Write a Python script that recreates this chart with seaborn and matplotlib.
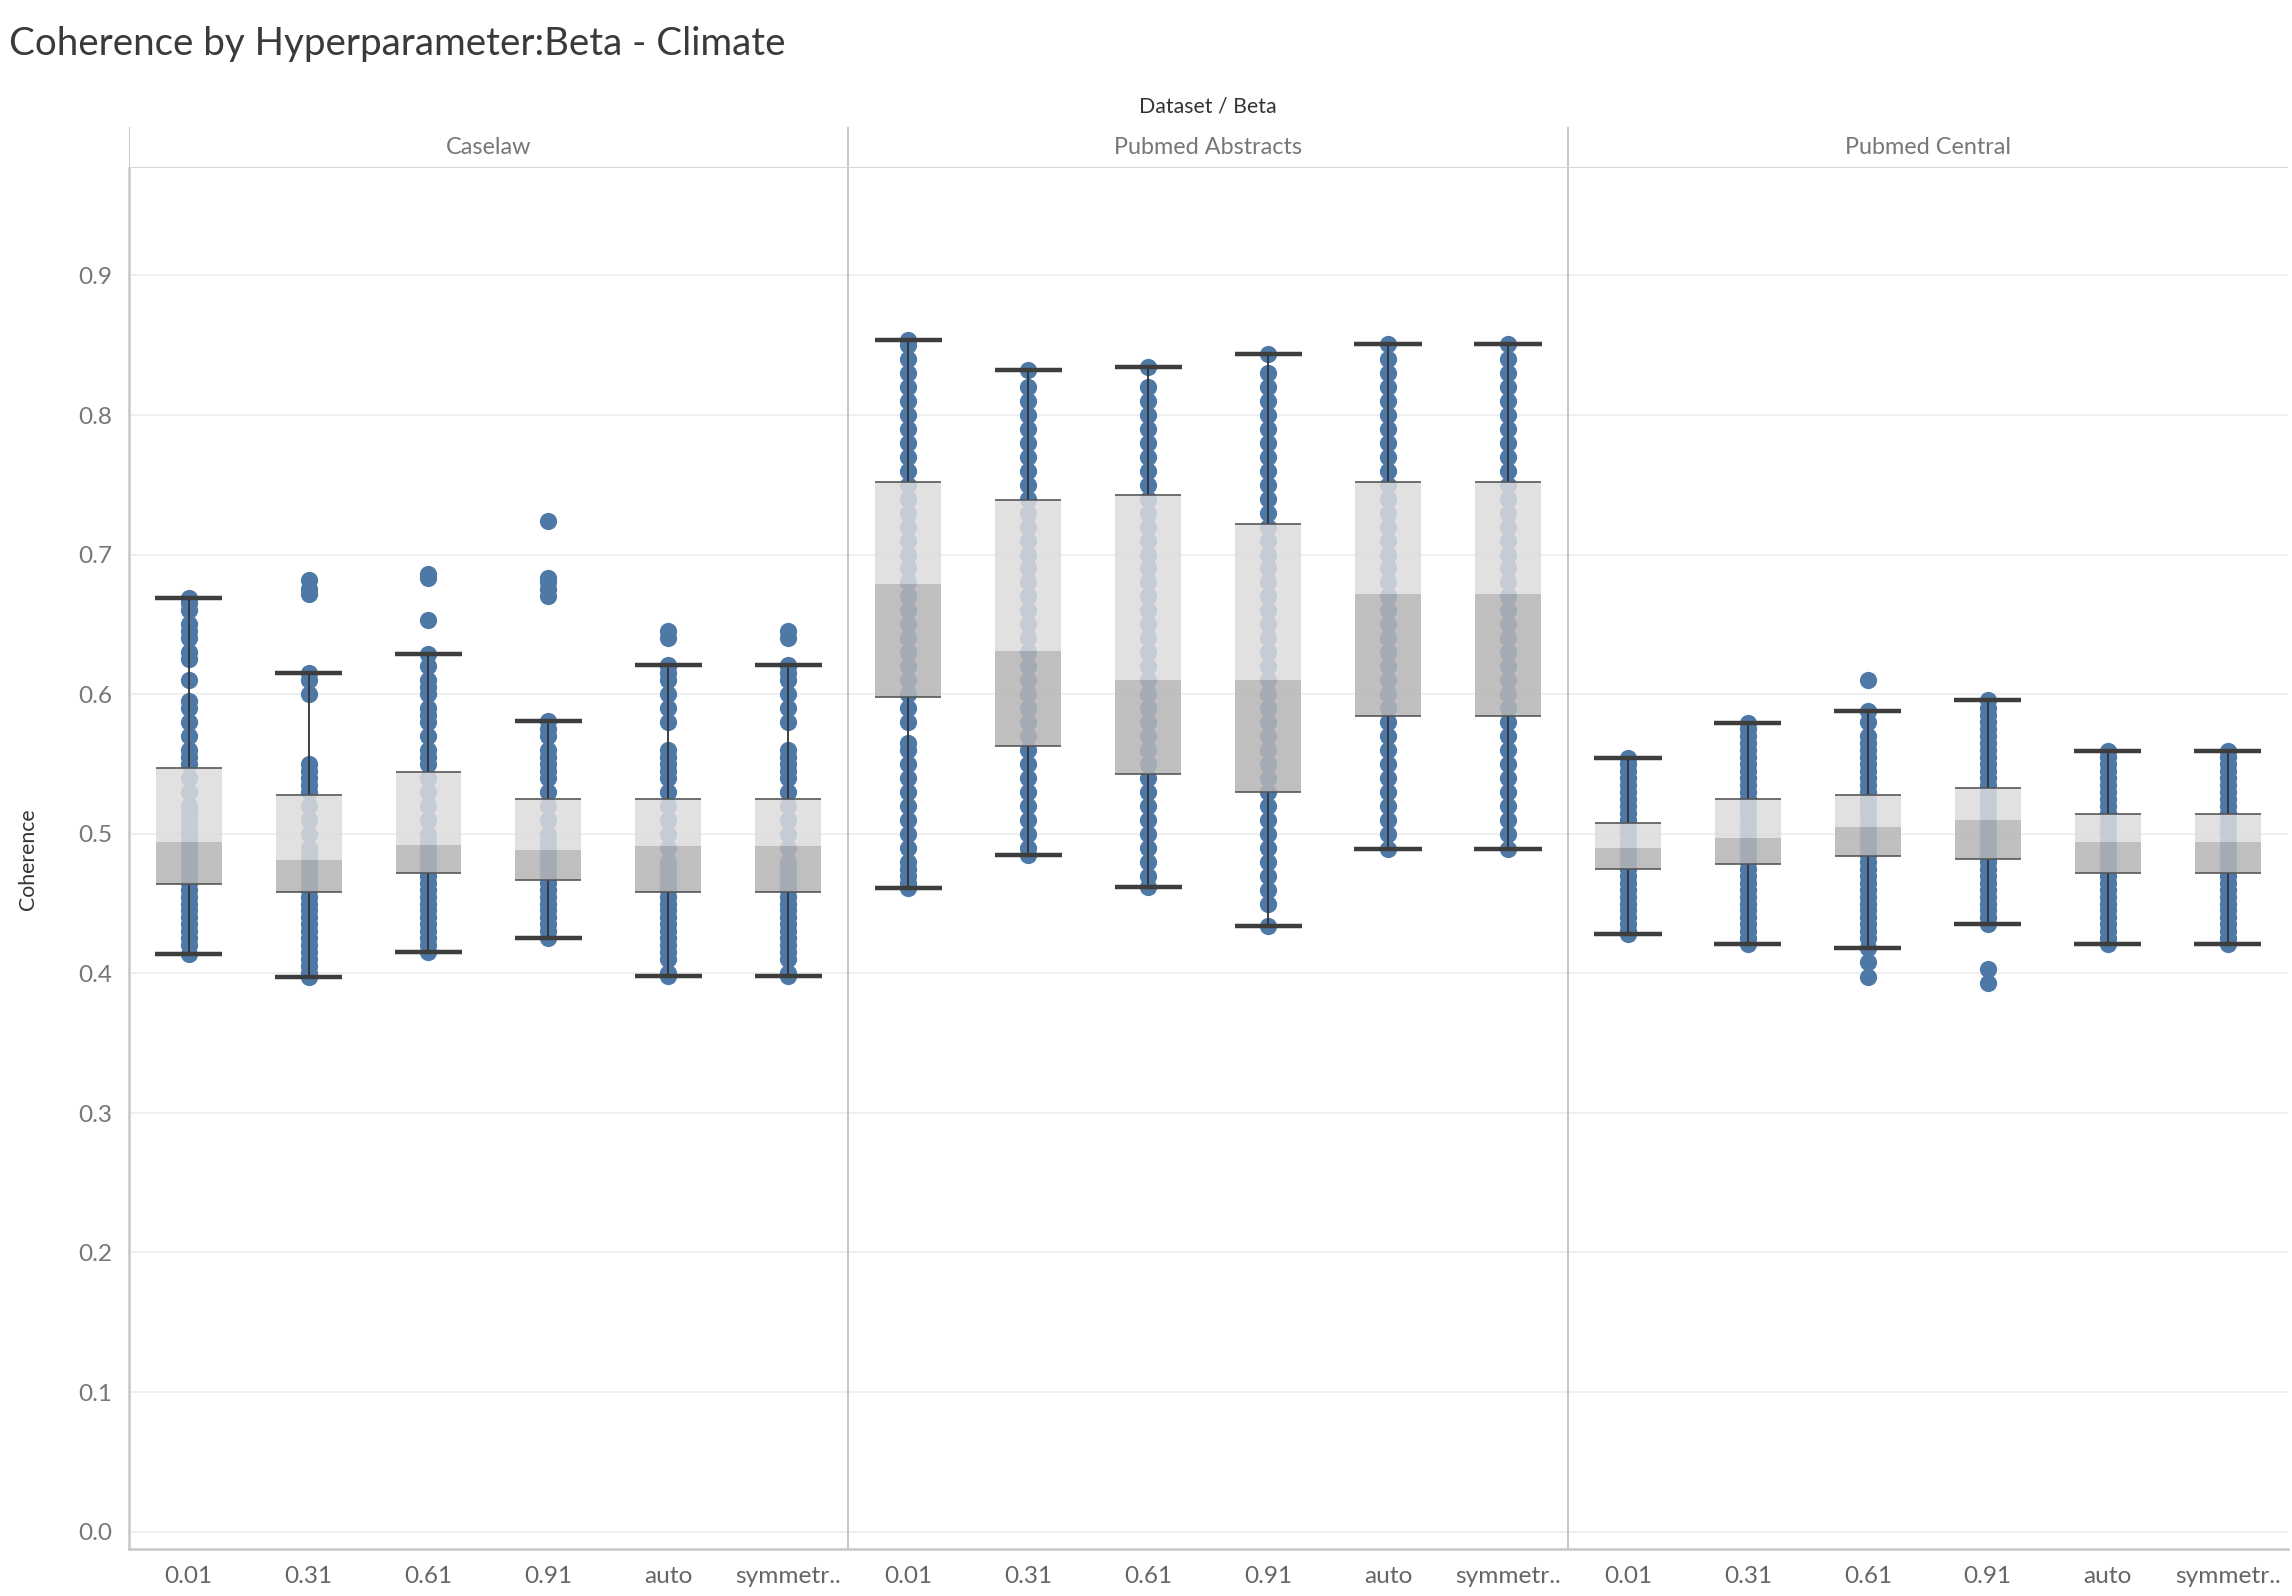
import matplotlib
matplotlib.use("Agg")
import matplotlib.pyplot as plt
import seaborn as sns
import pandas as pd
import numpy as np

sns.set_theme(style="white")
plt.rcParams['font.family'] = ['Lato', 'DejaVu Sans']

datasets = ["Caselaw", "Pubmed Abstracts", "Pubmed Central"]
betas = ["0.01", "0.31", "0.61", "0.91", "auto", "symmetr.."]

# box stats: whisker low, q1, median, q3, whisker high
whislo = [0.414, 0.397, 0.415, 0.425, 0.398, 0.398,
          0.461, 0.485, 0.462, 0.434, 0.489, 0.489,
          0.428, 0.421, 0.418, 0.435, 0.421, 0.421]
q1 = [0.464, 0.458, 0.472, 0.467, 0.458, 0.458,
      0.598, 0.563, 0.543, 0.530, 0.584, 0.584,
      0.475, 0.478, 0.484, 0.482, 0.472, 0.472]
median = [0.494, 0.481, 0.492, 0.488, 0.491, 0.491,
          0.679, 0.631, 0.610, 0.610, 0.672, 0.672,
          0.490, 0.497, 0.505, 0.510, 0.494, 0.494]
q3 = [0.547, 0.528, 0.544, 0.525, 0.525, 0.525,
      0.752, 0.739, 0.743, 0.722, 0.752, 0.752,
      0.508, 0.525, 0.528, 0.533, 0.514, 0.514]
whishi = [0.669, 0.615, 0.629, 0.581, 0.621, 0.621,
          0.854, 0.832, 0.834, 0.844, 0.851, 0.851,
          0.554, 0.579, 0.588, 0.596, 0.559, 0.559]

# individual points (estimated)
points = [
    [0.414, 0.42, 0.425, 0.43, 0.435, 0.44, 0.445, 0.45, 0.455, 0.46, 0.465, 0.47, 0.475, 0.48, 0.485, 0.49, 0.495, 0.50, 0.505, 0.51, 0.515, 0.52, 0.53, 0.54, 0.55, 0.555, 0.56, 0.57, 0.58, 0.59, 0.595, 0.61, 0.625, 0.63, 0.64, 0.645, 0.65, 0.66, 0.665, 0.669],
    [0.397, 0.40, 0.405, 0.41, 0.415, 0.42, 0.425, 0.43, 0.435, 0.44, 0.445, 0.45, 0.455, 0.46, 0.465, 0.47, 0.475, 0.48, 0.485, 0.49, 0.50, 0.51, 0.52, 0.53, 0.535, 0.54, 0.545, 0.55, 0.60, 0.61, 0.615, 0.672, 0.675, 0.682],
    [0.415, 0.42, 0.425, 0.43, 0.435, 0.44, 0.445, 0.45, 0.455, 0.46, 0.465, 0.47, 0.475, 0.48, 0.485, 0.49, 0.495, 0.50, 0.51, 0.52, 0.53, 0.54, 0.55, 0.555, 0.56, 0.57, 0.58, 0.585, 0.59, 0.60, 0.605, 0.61, 0.62, 0.629, 0.653, 0.683, 0.686],
    [0.425, 0.43, 0.435, 0.44, 0.445, 0.45, 0.455, 0.46, 0.465, 0.47, 0.475, 0.48, 0.485, 0.49, 0.495, 0.50, 0.51, 0.52, 0.53, 0.54, 0.545, 0.55, 0.555, 0.56, 0.57, 0.575, 0.581, 0.670, 0.675, 0.680, 0.683, 0.724],
    [0.398, 0.40, 0.41, 0.415, 0.42, 0.425, 0.43, 0.435, 0.44, 0.445, 0.45, 0.455, 0.46, 0.465, 0.47, 0.475, 0.48, 0.49, 0.50, 0.51, 0.52, 0.53, 0.54, 0.545, 0.55, 0.555, 0.56, 0.58, 0.59, 0.60, 0.61, 0.615, 0.62, 0.621, 0.64, 0.645],
    [0.398, 0.40, 0.41, 0.415, 0.42, 0.425, 0.43, 0.435, 0.44, 0.445, 0.45, 0.455, 0.46, 0.465, 0.47, 0.475, 0.48, 0.49, 0.50, 0.51, 0.52, 0.53, 0.54, 0.545, 0.55, 0.555, 0.56, 0.58, 0.59, 0.60, 0.61, 0.615, 0.62, 0.621, 0.64, 0.645],
    [0.461, 0.465, 0.47, 0.475, 0.48, 0.49, 0.50, 0.51, 0.52, 0.53, 0.54, 0.55, 0.56, 0.565, 0.58, 0.59, 0.60, 0.61, 0.62, 0.63, 0.64, 0.65, 0.66, 0.67, 0.68, 0.69, 0.70, 0.71, 0.72, 0.73, 0.74, 0.75, 0.76, 0.77, 0.78, 0.79, 0.80, 0.81, 0.82, 0.83, 0.84, 0.85, 0.854],
    [0.485, 0.49, 0.50, 0.51, 0.52, 0.53, 0.54, 0.55, 0.56, 0.57, 0.58, 0.59, 0.60, 0.61, 0.62, 0.63, 0.64, 0.65, 0.66, 0.67, 0.68, 0.69, 0.70, 0.71, 0.72, 0.73, 0.74, 0.75, 0.76, 0.77, 0.78, 0.79, 0.80, 0.81, 0.82, 0.832],
    [0.462, 0.47, 0.48, 0.49, 0.50, 0.51, 0.52, 0.53, 0.54, 0.55, 0.56, 0.57, 0.58, 0.59, 0.60, 0.61, 0.62, 0.63, 0.64, 0.65, 0.66, 0.67, 0.68, 0.69, 0.70, 0.71, 0.72, 0.73, 0.74, 0.75, 0.76, 0.77, 0.78, 0.79, 0.80, 0.81, 0.82, 0.834],
    [0.434, 0.45, 0.46, 0.47, 0.48, 0.49, 0.50, 0.51, 0.52, 0.53, 0.54, 0.55, 0.56, 0.57, 0.58, 0.59, 0.60, 0.61, 0.62, 0.63, 0.64, 0.65, 0.66, 0.67, 0.68, 0.69, 0.70, 0.71, 0.72, 0.73, 0.74, 0.75, 0.76, 0.77, 0.78, 0.79, 0.80, 0.81, 0.82, 0.83, 0.844],
    [0.489, 0.50, 0.51, 0.52, 0.53, 0.54, 0.55, 0.56, 0.57, 0.58, 0.59, 0.60, 0.61, 0.62, 0.63, 0.64, 0.65, 0.66, 0.67, 0.68, 0.69, 0.70, 0.71, 0.72, 0.73, 0.74, 0.75, 0.76, 0.77, 0.78, 0.79, 0.80, 0.81, 0.82, 0.83, 0.84, 0.851],
    [0.489, 0.50, 0.51, 0.52, 0.53, 0.54, 0.55, 0.56, 0.57, 0.58, 0.59, 0.60, 0.61, 0.62, 0.63, 0.64, 0.65, 0.66, 0.67, 0.68, 0.69, 0.70, 0.71, 0.72, 0.73, 0.74, 0.75, 0.76, 0.77, 0.78, 0.79, 0.80, 0.81, 0.82, 0.83, 0.84, 0.851],
    [0.428, 0.43, 0.435, 0.44, 0.445, 0.45, 0.455, 0.46, 0.465, 0.47, 0.475, 0.48, 0.485, 0.49, 0.495, 0.50, 0.505, 0.51, 0.515, 0.52, 0.525, 0.53, 0.535, 0.54, 0.545, 0.55, 0.554],
    [0.421, 0.425, 0.43, 0.435, 0.44, 0.445, 0.45, 0.455, 0.46, 0.465, 0.47, 0.475, 0.48, 0.485, 0.49, 0.495, 0.50, 0.505, 0.51, 0.515, 0.52, 0.525, 0.53, 0.535, 0.54, 0.545, 0.55, 0.555, 0.56, 0.565, 0.57, 0.575, 0.579],
    [0.397, 0.408, 0.418, 0.425, 0.43, 0.435, 0.44, 0.445, 0.45, 0.455, 0.46, 0.465, 0.47, 0.475, 0.48, 0.485, 0.49, 0.495, 0.50, 0.505, 0.51, 0.515, 0.52, 0.525, 0.53, 0.535, 0.54, 0.545, 0.55, 0.555, 0.56, 0.565, 0.57, 0.58, 0.588, 0.61],
    [0.393, 0.403, 0.435, 0.44, 0.445, 0.45, 0.455, 0.46, 0.465, 0.47, 0.475, 0.48, 0.485, 0.49, 0.495, 0.50, 0.505, 0.51, 0.515, 0.52, 0.525, 0.53, 0.535, 0.54, 0.545, 0.55, 0.555, 0.56, 0.565, 0.57, 0.575, 0.58, 0.585, 0.59, 0.596],
    [0.421, 0.425, 0.43, 0.435, 0.44, 0.445, 0.45, 0.455, 0.46, 0.465, 0.47, 0.475, 0.48, 0.485, 0.49, 0.495, 0.50, 0.505, 0.51, 0.515, 0.52, 0.525, 0.53, 0.535, 0.54, 0.545, 0.55, 0.555, 0.559],
    [0.421, 0.425, 0.43, 0.435, 0.44, 0.445, 0.45, 0.455, 0.46, 0.465, 0.47, 0.475, 0.48, 0.485, 0.49, 0.495, 0.50, 0.505, 0.51, 0.515, 0.52, 0.525, 0.53, 0.535, 0.54, 0.545, 0.55, 0.555, 0.559],
]

cats = [f"{d}|{b}" for d in datasets for b in betas]
rows = []
for c, vals in zip(cats, points):
    for v in vals:
        rows.append((c, v))
df = pd.DataFrame(rows, columns=["cat", "Coherence"])

W, H = 1568, 1092
fig = plt.figure(figsize=(15.68, 10.92), dpi=2292 / 15.68)
ax = fig.add_axes([88/W, 1 - 1060/H, (1565-88)/W, (1060-115)/H])

for y in np.arange(0.0, 0.95, 0.1):
    ax.axhline(y, color="#ececec", lw=0.8, zorder=0)

sns.stripplot(data=df, x="cat", y="Coherence", order=cats, jitter=False,
              color="#4e79a7", size=8.5, linewidth=0, ax=ax, zorder=2)

xs = np.arange(len(cats))
bw = 0.55
ax.bar(xs, np.array(median) - np.array(q1), bottom=q1, width=bw,
       color="#b4b4b4", alpha=0.85, zorder=3, linewidth=0)
ax.bar(xs, np.array(q3) - np.array(median), bottom=median, width=bw,
       color="#dcdcdc", alpha=0.85, zorder=3, linewidth=0)
for i in xs:
    ax.vlines(i, whislo[i], q1[i], color="#333333", lw=0.9, zorder=4)
    ax.vlines(i, q3[i], whishi[i], color="#333333", lw=0.9, zorder=4)
    ax.hlines([whislo[i], whishi[i]], i - 0.28, i + 0.28, color="#3d3d3d", lw=2.2, zorder=4)
    ax.hlines([q1[i], q3[i]], i - bw/2, i + bw/2, color="#555555", lw=0.8, zorder=4)

for sep in [5.5, 11.5]:
    ax.axvline(sep, color="#c8c8c8", lw=1.0, zorder=1)

ax.set_xlim(-0.5, len(cats) - 0.5)
ax.set_ylim(-0.0126, 0.977)
ax.set_yticks(np.arange(0, 0.95, 0.1))
ax.set_yticklabels([f"{v:.1f}" for v in np.arange(0, 0.95, 0.1)], fontsize=12, color="#777777")
ax.set_xticks(xs)
ax.set_xticklabels(betas * 3, fontsize=12, color="#666666")
ax.tick_params(axis="both", length=0, pad=8)
ax.set_xlabel("")
ax.set_ylabel("Coherence", fontsize=10.5, color="#333333", labelpad=20)
for s in ["top", "right"]:
    ax.spines[s].set_visible(False)
ax.spines["left"].set_color("#c8c8c8")
ax.spines["bottom"].set_color("#c8c8c8")

# facet header
hax = fig.add_axes([88/W, 1 - 115/H, (1565-88)/W, 28/H])
hax.set_xlim(-0.5, len(cats) - 0.5)
hax.set_ylim(0, 1)
hax.axis("off")
for k, d in enumerate(datasets):
    hax.text(k * 6 + 2.5, 0.5, d, ha="center", va="center", fontsize=11.5, color="#777777")
for sep in [-0.5, 5.5, 11.5]:
    hax.axvline(sep, color="#c8c8c8", lw=1.0)
hax.axhline(0, color="#d8d8d8", lw=1.0)
fig.text((88 + 1565) / 2 / W, 1 - 73/H, "Dataset / Beta", ha="center", va="center",
         fontsize=10.5, color="#333333")

fig.text(6/W, 1 - 30/H, "Coherence by Hyperparameter:Beta - Climate", ha="left", va="center",
         fontsize=19, color="#3a3a3a", fontweight="normal")

fig.savefig("out.png", dpi=2292 / 15.68)
